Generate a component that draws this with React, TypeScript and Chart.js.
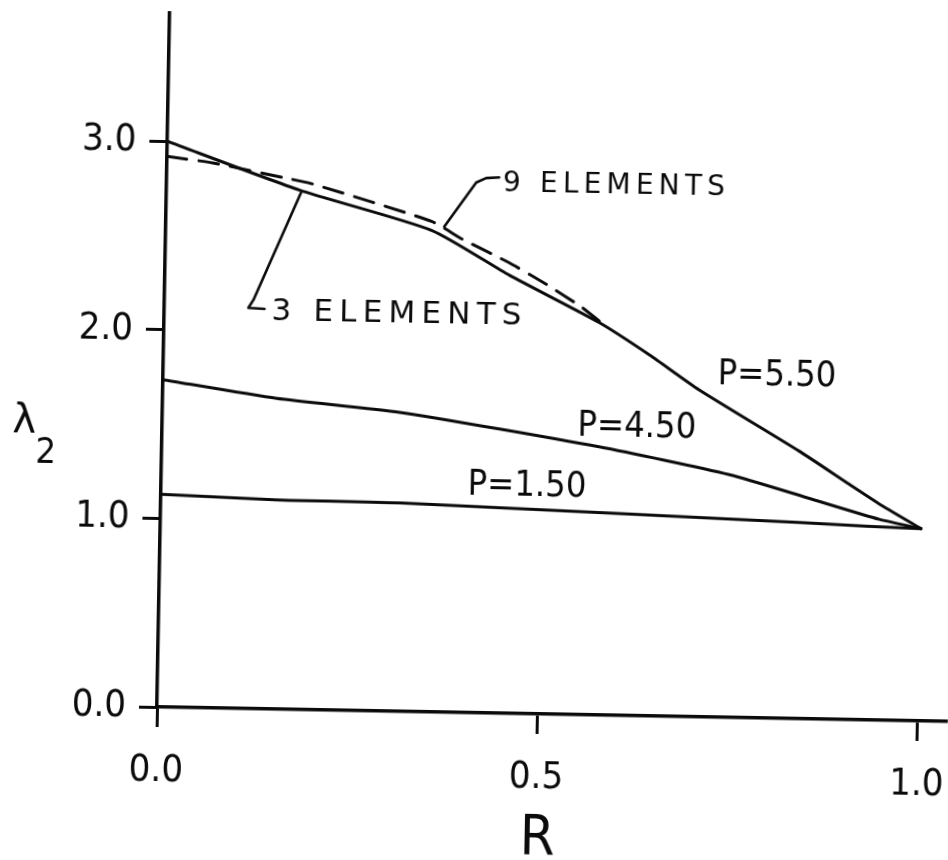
import { useEffect, useRef } from "react";
import { Chart, registerables } from "chart.js";

Chart.register(...registerables);

// λ2 versus R for three load levels P; the P=5.50 case is shown for 3 and 9 elements.
const P550_3EL_R = [0, 0.175, 0.35, 0.453, 0.572, 0.639, 0.705, 0.838, 0.905, 0.949, 1.0];
const P550_3EL_L = [3.0, 2.754, 2.553, 2.323, 2.081, 1.914, 1.734, 1.419, 1.247, 1.136, 1.02];

const P550_9EL_R = [0, 0.06, 0.152, 0.19, 0.35, 0.39, 0.452, 0.501, 0.549, 0.575];
const P550_9EL_L = [2.92, 2.89, 2.82, 2.79, 2.6, 2.51, 2.39, 2.28, 2.16, 2.08];

const P450_R = [0, 0.15, 0.312, 0.575, 0.747, 0.85, 0.945, 1.0];
const P450_L = [1.736, 1.648, 1.586, 1.422, 1.287, 1.172, 1.065, 1.02];

const P150_R = [0, 0.152, 0.314, 0.84, 0.928, 1.0];
const P150_L = [1.128, 1.11, 1.105, 1.041, 1.027, 1.02];

const X_TICKS = [0, 0.5, 1.0];
const Y_TICKS = [0, 1, 2, 3];

const X_TITLE = "R";
const Y_TITLE = "λ";
const Y_TITLE_SUB = "2";

const CURVE_TEXT = ["P=5.50", "P=4.50", "P=1.50"];
const ELEMENT_TEXT = ["9 ELEMENTS", "3 ELEMENTS"];

// Label anchors (left end of text baseline) and leader lines, in data units.
const CURVE_TEXT_AT = [
  { r: 0.729, l: 1.766 },
  { r: 0.546, l: 1.481 },
  { r: 0.403, l: 1.156 },
];
const ELEMENT_TEXT_AT = [
  { r: 0.442, l: 2.767, size: 28, gap: 5.2 },
  { r: 0.141, l: 2.064, size: 31, gap: 6.2 },
];
const LEADERS = [
  [
    { r: 0.366, l: 2.575 },
    { r: 0.407, l: 2.812 },
    { r: 0.42, l: 2.836 },
    { r: 0.437, l: 2.841 },
  ],
  [
    { r: 0.177, l: 2.741 },
    { r: 0.117, l: 2.168 },
    { r: 0.1105, l: 2.125 },
    { r: 0.1317, l: 2.121 },
  ],
];

const INK = "#0b0b0b";
const NARROW = "'DejaVu Sans Condensed', 'DejaVu Sans', sans-serif";
const WIDE = "'DejaVu Sans', sans-serif";

const pts = (xs: number[], ys: number[]) => xs.map((x, i) => ({ x, y: ys[i] }));

function spacedText(ctx: CanvasRenderingContext2D, text: string, x: number, y: number, gap: number) {
  let cx = x;
  for (const ch of text) {
    ctx.fillText(ch, cx, y);
    cx += ctx.measureText(ch).width + gap;
  }
}

// Scales keep no extra room for overhanging tick labels.
function noOverhang(s: any) {
  s.paddingLeft = 0;
  s.paddingRight = 0;
  s.paddingTop = 0;
  s.paddingBottom = 0;
}

const annotations = {
  id: "annotations",
  afterDraw(chart: any) {
    const { ctx, scales } = chart;
    const xs = scales.x;
    const ys = scales.y;
    const px = (r: number) => xs.getPixelForValue(r);
    const py = (l: number) => ys.getPixelForValue(l);
    ctx.save();
    ctx.fillStyle = INK;
    ctx.strokeStyle = INK;
    ctx.lineWidth = 2.6;
    ctx.lineCap = "round";
    ctx.lineJoin = "round";
    ctx.textBaseline = "alphabetic";
    ctx.textAlign = "left";

    LEADERS.forEach((line) => {
      ctx.beginPath();
      line.forEach((p, i) => {
        if (i === 0) ctx.moveTo(px(p.r), py(p.l));
        else ctx.lineTo(px(p.r), py(p.l));
      });
      ctx.stroke();
    });

    ELEMENT_TEXT.forEach((t, i) => {
      const a = ELEMENT_TEXT_AT[i];
      ctx.font = `${a.size}px ${WIDE}`;
      spacedText(ctx, t, px(a.r), py(a.l), a.gap);
    });

    ctx.font = `36px ${NARROW}`;
    CURVE_TEXT.forEach((t, i) => {
      const a = CURVE_TEXT_AT[i];
      spacedText(ctx, t, px(a.r), py(a.l), 0);
    });

    // axis titles
    const area = chart.chartArea;
    ctx.textAlign = "center";
    ctx.font = `56px ${NARROW}`;
    ctx.fillText(X_TITLE, px(0.503), area.bottom + 140);
    ctx.font = `40px ${WIDE}`;
    ctx.fillText(Y_TITLE, area.left - 138, py(1.44));
    ctx.font = `36px ${NARROW}`;
    ctx.fillText(Y_TITLE_SUB, area.left - 116, py(1.285));
    ctx.restore();
  },
};

export default function App() {
  const ref = useRef<HTMLCanvasElement | null>(null);

  useEffect(() => {
    if (!ref.current) return;
    const line = (data: { x: number; y: number }[], dash: number[] = []) => ({
      data,
      borderColor: INK,
      borderWidth: 3,
      borderDash: dash,
      borderCapStyle: "round" as const,
      pointRadius: 0,
      tension: 0.2,
      fill: false,
    });

    const chart = new Chart(ref.current, {
      type: "line",
      data: {
        datasets: [
          line(pts(P550_3EL_R, P550_3EL_L)),
          line(pts(P550_9EL_R, P550_9EL_L), [20, 12]),
          line(pts(P450_R, P450_L)),
          line(pts(P150_R, P150_L)),
        ],
      },
      options: {
        responsive: false,
        animation: false,
        devicePixelRatio: 1,
        layout: { padding: { top: 13, left: 0, right: 0, bottom: 0 } },
        plugins: { legend: { display: false }, tooltip: { enabled: false } },
        scales: {
          x: {
            type: "linear",
            min: 0,
            max: 1.04,
            afterBuildTicks: (s: any) => {
              s.ticks = X_TICKS.map((value) => ({ value }));
            },
            afterFit: (s: any) => {
              s.height = 153;
              noOverhang(s);
            },
            ticks: {
              callback: (v: any) => Number(v).toFixed(1),
              color: INK,
              font: { family: NARROW, size: 38 },
              padding: 21,
              maxRotation: 0,
            },
            grid: {
              drawOnChartArea: false,
              drawTicks: true,
              tickLength: 20,
              lineWidth: 3,
              color: INK,
            },
            border: { display: true, width: 3.5, color: INK },
          },
          y: {
            type: "linear",
            min: 0,
            max: 3.68,
            afterBuildTicks: (s: any) => {
              s.ticks = Y_TICKS.map((value) => ({ value }));
            },
            afterFit: (s: any) => {
              s.width = 157;
              noOverhang(s);
            },
            ticks: {
              callback: (v: any) => Number(v).toFixed(1),
              color: INK,
              font: { family: NARROW, size: 38 },
              padding: 13,
            },
            grid: {
              drawOnChartArea: false,
              drawTicks: true,
              tickLength: 18,
              lineWidth: 3,
              color: INK,
            },
            border: { display: true, width: 3.5, color: INK },
          },
        },
      },
      plugins: [annotations],
    });
    return () => chart.destroy();
  }, []);

  return (
    <div style={{ position: "absolute", left: 0, top: 0, width: 948, height: 860, background: "#fff" }}>
      <canvas
        ref={ref}
        width={948}
        height={860}
        style={{
          width: 948,
          height: 860,
          display: "block",
          transform: "rotate(1.05deg)",
          transformOrigin: "157px 707px",
        }}
      />
    </div>
  );
}
